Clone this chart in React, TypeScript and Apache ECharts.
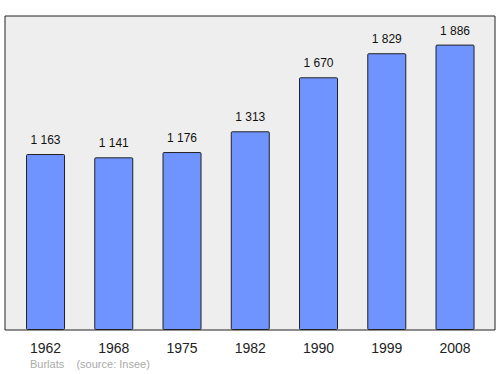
import React, { useEffect, useRef } from "react";
import * as echarts from "echarts";

const years = ["1962", "1968", "1975", "1982", "1990", "1999", "2008"];
const population = [1163, 1141, 1176, 1313, 1670, 1829, 1886];
const footerText = "Burlats    (source: Insee)";

const fmt = (v: number) => {
  const s = String(v);
  return s.length > 3 ? s.slice(0, s.length - 3) + " " + s.slice(-3) : s;
};

export default function App() {
  const ref = useRef<HTMLDivElement>(null);
  useEffect(() => {
    if (!ref.current) return;
    const chart = echarts.init(ref.current, null, { renderer: "svg" });
    chart.setOption({
      animation: false,
      textStyle: { fontFamily: "Liberation Sans, Arial, sans-serif" },
      grid: [
        {
          left: 5,
          top: 16,
          width: 490,
          height: 314,
          show: true,
          backgroundColor: "#eeeeee",
          borderColor: "#222222",
          borderWidth: 1,
        },
        { left: 11.4, top: 16, width: 477.75, height: 314 },
      ],
      xAxis: [
        { gridIndex: 0, type: "value", show: false, min: 0, max: 1 },
        {
          gridIndex: 1,
          type: "category",
          data: years,
          axisLine: { show: false },
          axisTick: { show: false },
          axisLabel: { color: "#222", fontSize: 14, margin: 11 },
        },
      ],
      yAxis: [
        { gridIndex: 0, type: "value", show: false, min: 0, max: 1 },
        {
          gridIndex: 1,
          type: "value",
          min: 0,
          max: 2075,
          show: false,
        },
      ],
      series: [
        {
          type: "bar",
          xAxisIndex: 1,
          yAxisIndex: 1,
          data: population,
          barWidth: 39,
          itemStyle: {
            color: "#7094ff",
            borderColor: "#222222",
            borderWidth: 1,
            borderRadius: 1,
          },
          label: {
            show: true,
            position: "top",
            distance: 8,
            color: "#111",
            fontSize: 12,
            formatter: (p: any) => fmt(p.value),
          },
        },
      ],
      graphic: [
        {
          type: "text",
          left: 30,
          top: 358,
          style: {
            text: footerText,
            fill: "#aaaaaa",
            fontSize: 11,
            fontFamily: "Liberation Sans, Arial, sans-serif",
          },
        },
      ],
    });
    return () => chart.dispose();
  }, []);
  return (
    <div
      ref={ref}
      style={{ position: "absolute", left: 0, top: 0, width: 500, height: 374 }}
    />
  );
}
